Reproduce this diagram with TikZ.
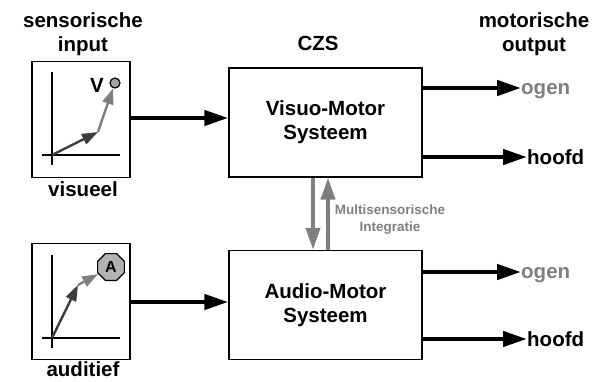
\documentclass[tikz,border=0pt]{standalone}
\usepackage{fontspec}
\setmainfont{Liberation Sans}
\usetikzlibrary{arrows.meta}
\usetikzlibrary{shapes.geometric}

\definecolor{midgray}{HTML}{7F7F7F}
\definecolor{darkgray}{HTML}{3C3C3C}

\tikzset{
  sysbox/.style={draw,line width=1.4pt,minimum width=193pt,minimum height=109pt,align=center},
  graphbox/.style={draw,line width=1.2pt,minimum width=98pt,minimum height=116pt},
  bigarrow/.style={line width=4.5pt,-{Triangle[length=24pt,width=15pt]}},
  grayarrow/.style={midgray,line width=4pt,-{Triangle[length=22pt,width=14pt]}},
  smallarrow/.style={line width=2.4pt,-{Triangle[length=16pt,width=11pt]}},
  axis/.style={line width=1.1pt},
}

\begin{document}
\begin{tikzpicture}[x=1pt,y=-1pt,inner sep=0pt,font=\bfseries\fontsize{20.5}{24}\selectfont]
\useasboundingbox (0,0) rectangle (592,381);

% headings
\node (hin) at (83,34) [align=center] {sensorische\\input};
\node (hczs) at (318,43) {CZS};
\node (hout) at (534,34) [align=center] {motorische\\output};

% sensory boxes
\node[graphbox] (vis) at (81,119.5) {};
\node[graphbox] (aud) at (81,301.5) {};
\node (lvis) at (83,189) {visueel};
\node (laud) at (83,369) {auditief};

% central systems
\node[sysbox] (vms) at (325.5,122.5) {Visuo-Motor\\Systeem};
\node[sysbox] (ams) at (325.5,305) {Audio-Motor\\Systeem};

% visual graph
\coordinate (vo) at (52,155);
\draw[axis] (52,72) -- (52,165);
\draw[axis] (42,155) -- (120,155);
\coordinate (vk) at (98,132);
\node[draw,circle,fill=midgray!70,line width=1.2pt,minimum size=10pt] (vtarget) at (115,83) {};
\node (vlet) at (97,85) {V};
\draw[smallarrow,darkgray] (vo) -- (vk);
\draw[smallarrow,midgray] (vk) -- (102,120) -- (vtarget);

% auditory graph
\coordinate (ao) at (52,338);
\draw[axis] (52,255) -- (52,348);
\draw[axis] (42,338) -- (120,338);
\coordinate (ak) at (78,285);
\node[draw,regular polygon,regular polygon sides=8,fill=midgray!60,line width=1.2pt,minimum size=29pt,
  font=\bfseries\fontsize{16}{16}\selectfont] (atarget) at (111,267) {A};
\draw[smallarrow,darkgray] (ao) -- (ak);
\draw[smallarrow,midgray] (ak) -- (atarget);

% input arrows
\draw[bigarrow] (vis.east |- 0,118) -- (vms.west |- 0,118);
\draw[bigarrow] (aud.east |- 0,302) -- (ams.west |- 0,302);

% multisensory integration
\draw[grayarrow] (313,0 |- vms.south) -- (313,0 |- ams.north);
\draw[grayarrow] (328,0 |- ams.north) -- (328,0 |- vms.south);
\node[midgray,align=center,font=\bfseries\fontsize{13.5}{17}\selectfont] (lint) at (390,220) {Multisensorische\\Integratie};

% outputs
\node[midgray,anchor=west] (vogen) at (521,91) {ogen};
\node[anchor=west] (vhoofd) at (527,157) {hoofd};
\node[midgray,anchor=west] (aogen) at (521,275) {ogen};
\node[anchor=west] (ahoofd) at (527,339) {hoofd};
\draw[bigarrow] (vms.east |- 0,88) -- (vogen.west |- 0,88);
\draw[bigarrow] (vms.east |- 0,157) -- (vhoofd.west |- 0,157);
\draw[bigarrow] (ams.east |- 0,272) -- (aogen.west |- 0,272);
\draw[bigarrow] (ams.east |- 0,339) -- (ahoofd.west |- 0,339);
\end{tikzpicture}
\end{document}
